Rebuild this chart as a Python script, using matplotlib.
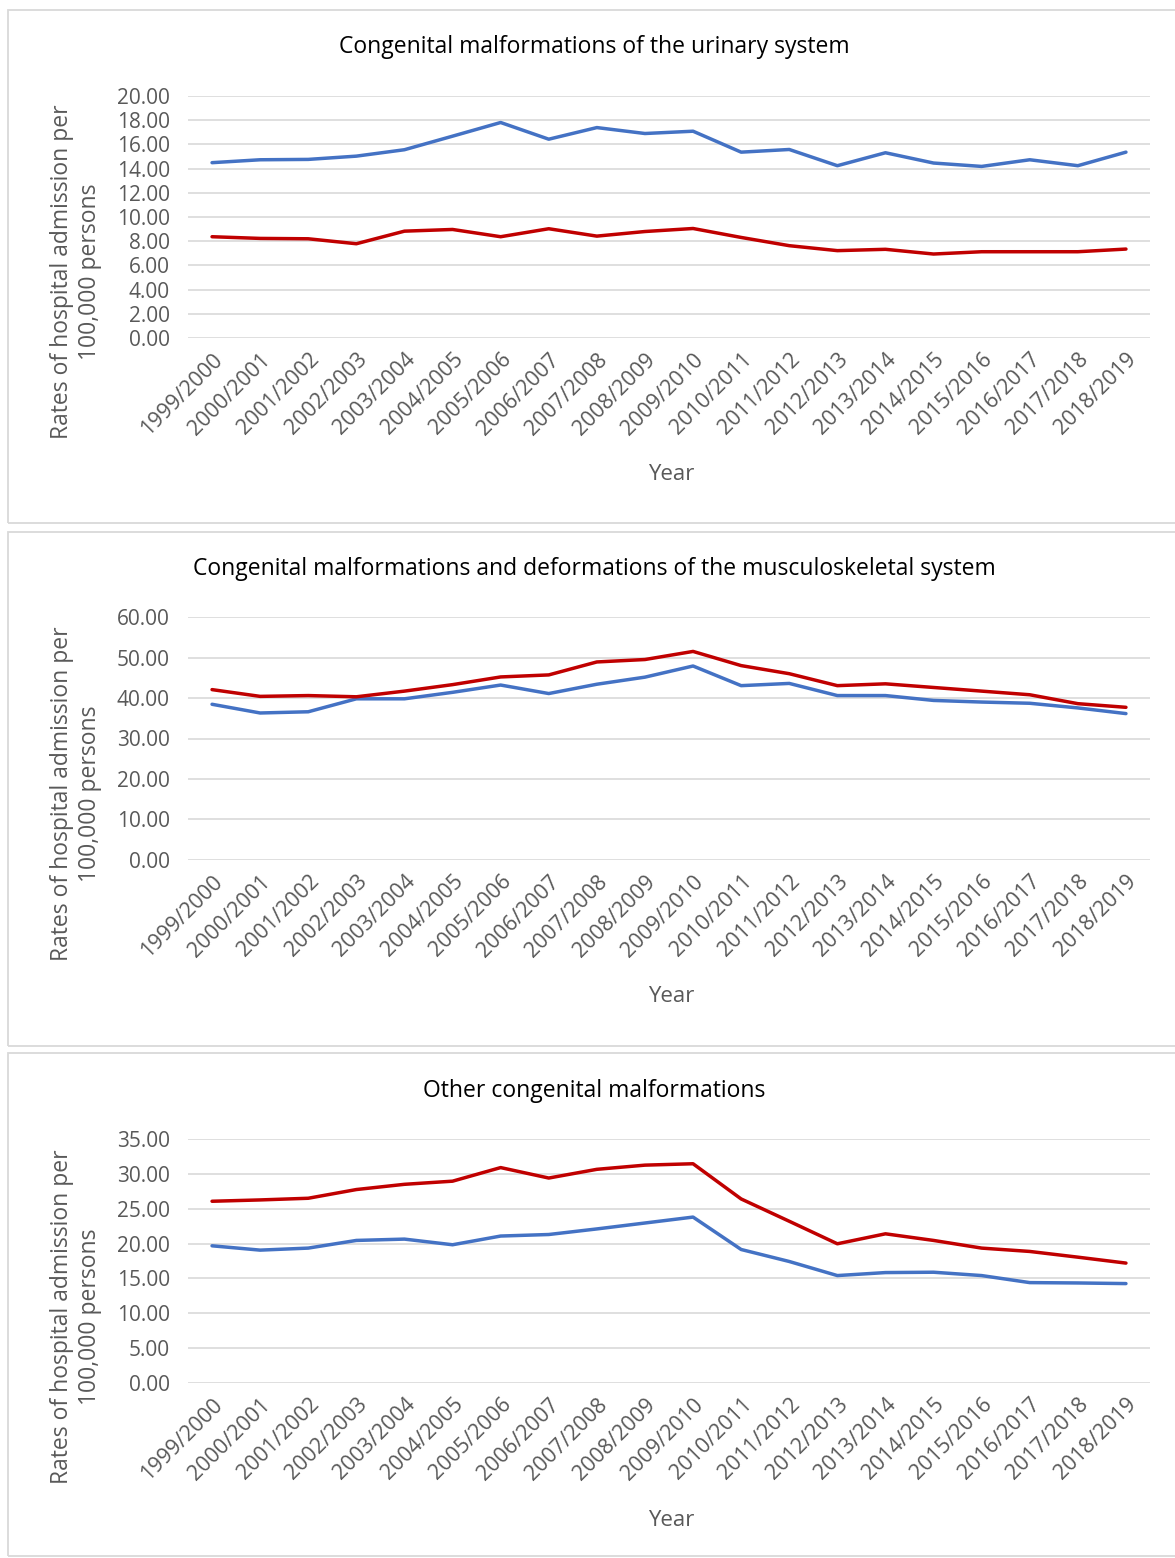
import matplotlib.pyplot as plt
from matplotlib.patches import Rectangle

W, H = 1175, 1558

years = ['1999/2000', '2000/2001', '2001/2002', '2002/2003', '2003/2004',
         '2004/2005', '2005/2006', '2006/2007', '2007/2008', '2008/2009',
         '2009/2010', '2010/2011', '2011/2012', '2012/2013', '2013/2014',
         '2014/2015', '2015/2016', '2016/2017', '2017/2018', '2018/2019']

# urinary system
urinary_blue = [14.49, 14.73, 14.76, 15.03, 15.56, 16.68, 17.81, 16.43, 17.39, 16.90,
                17.09, 15.36, 15.58, 14.24, 15.31, 14.46, 14.18, 14.73, 14.24, 15.36]
urinary_red = [8.37, 8.23, 8.20, 7.79, 8.83, 8.97, 8.37, 9.03, 8.42, 8.80,
               9.05, 8.31, 7.63, 7.22, 7.33, 6.94, 7.13, 7.13, 7.13, 7.35]

# musculoskeletal system
musculo_blue = [38.45, 36.30, 36.60, 39.80, 39.80, 41.40, 43.20, 41.10, 43.40, 45.15,
                47.90, 43.05, 43.60, 40.60, 40.60, 39.40, 39.00, 38.70, 37.55, 36.15]
musculo_red = [42.07, 40.40, 40.60, 40.30, 41.70, 43.30, 45.20, 45.70, 48.90, 49.50,
               51.50, 48.00, 46.00, 43.05, 43.50, 42.60, 41.70, 40.80, 38.60, 37.70]

# other congenital malformations
other_blue = [19.68, 19.06, 19.35, 20.45, 20.64, 19.83, 21.08, 21.30, 22.10, 22.95,
              23.80, 19.15, 17.43, 15.41, 15.84, 15.89, 15.41, 14.40, 14.35, 14.26]
other_red = [26.07, 26.26, 26.50, 27.75, 28.50, 28.95, 30.90, 29.40, 30.65, 31.25,
             31.45, 26.40, 23.20, 19.97, 21.40, 20.45, 19.35, 18.87, 18.05, 17.20]

titles = ['Congenital malformations of the urinary system',
          'Congenital malformations and deformations of the musculoskeletal system',
          'Other congenital malformations']
ymaxes = [20, 60, 35]
ysteps = [2, 10, 5]
blues = [urinary_blue, musculo_blue, other_blue]
reds = [urinary_red, musculo_red, other_red]

BLUE = '#4472C4'
RED = '#C00000'
GRID = '#D9D9D9'
TXT = '#595959'
FONT = 'Open Sans'

plt.rcParams['font.family'] = [FONT, 'DejaVu Sans']

fig = plt.figure(figsize=(W / 100, H / 100), dpi=100)

# panel frames, plot tops/bottoms in pixels
frames = [(10, 523), (532, 1046), (1053, 1556)]
plot_top = [96, 617, 1139]
plot_bot = [338, 860, 1383]
title_y = [47, 569, 1091]
left, right = 188, 1150


def fx(px):
    return px / W


def fy(py):
    return 1 - py / H


for i in range(3):
    t, b = frames[i]
    fig.patches.append(Rectangle((fx(8), fy(b)), fx(W + 10) - fx(8), fy(t) - fy(b),
                                 transform=fig.transFigure, fill=False,
                                 edgecolor=GRID, linewidth=1.3))

    ax = fig.add_axes([fx(left), fy(plot_bot[i]), fx(right) - fx(left),
                       fy(plot_top[i]) - fy(plot_bot[i])])
    x = list(range(len(years)))
    ax.plot(x, blues[i], color=BLUE, linewidth=2.5, solid_capstyle='round')
    ax.plot(x, reds[i], color=RED, linewidth=2.5, solid_capstyle='round')
    ax.set_xlim(-0.5, len(years) - 0.5)
    ax.set_ylim(0, ymaxes[i])
    ticks = [v * ysteps[i] for v in range(ymaxes[i] // ysteps[i] + 1)]
    ax.set_yticks(ticks)
    ax.set_yticklabels(['%.2f' % v for v in ticks])
    ax.set_xticks(x)
    ax.set_xticklabels(years, rotation=45, ha='right', va='top',
                       rotation_mode='anchor')
    ax.tick_params(axis='both', length=0, colors=TXT)
    ax.tick_params(axis='y', pad=13, labelsize=15)
    ax.tick_params(axis='x', pad=8, labelsize=15.5)
    ax.grid(axis='y', color=GRID, linewidth=1.2)
    ax.set_axisbelow(True)
    for s in ax.spines.values():
        s.set_visible(False)

    fig.text(fx(594), fy(title_y[i]), titles[i], ha='center', va='center',
             fontsize=16.5, color='#000000')
    fig.text(fx(671), fy(plot_bot[i] + 137), 'Year', ha='center', va='center',
             fontsize=16, color=TXT)
    fig.text(fx(76), fy(plot_bot[i] - 66),
             'Rates of hospital admission per\n100,000 persons',
             ha='center', va='center', rotation=90, fontsize=16.5, color=TXT,
             linespacing=1.2)

fig.savefig('out.png', dpi=100)
